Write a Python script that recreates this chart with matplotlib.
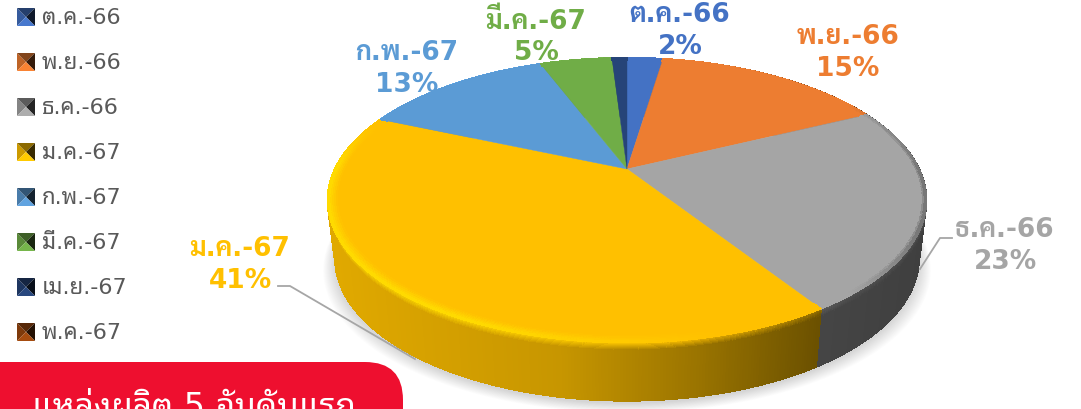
import numpy as np
import matplotlib
matplotlib.use('Agg')
import matplotlib.pyplot as plt
from matplotlib.collections import PolyCollection
from matplotlib.patches import FancyBboxPatch

months = ['ต.ค.-66', 'พ.ย.-66', 'ธ.ค.-66', 'ม.ค.-67', 'ก.พ.-67', 'มี.ค.-67', 'เม.ย.-67', 'พ.ค.-67']
share = [2.4, 15.4, 23.1, 40.6, 12.7, 4.8, 1.0, 0.0]
colors = ['#4472C4', '#ED7D31', '#A5A5A5', '#FFC000', '#5B9BD5', '#70AD47', '#264478', '#9E480E']

fam = ['DejaVu Sans', 'Noto Sans Thai Looped', 'Noto Sans Thai']
fam_bold = ['DejaVu Sans', 'Sarabun', 'Noto Sans Thai']

fig = plt.figure(figsize=(10.81, 4.10), dpi=100)
ax = fig.add_axes([0, 0, 1, 1])
ax.set_xlim(0, 1081)
ax.set_ylim(410, 0)
ax.axis('off')

cx, cy = 627.0, 170.0
a, b, k = 292.0, 135.5, 0.2195
depth = 58.0
shrink = 0.975


def rim(theta, r=1.0):
    u = r * np.sin(theta)
    v = r * np.cos(theta)
    w = 1 + k * v
    return cx + a * u / w, cy - b * v / w


def rim_low(theta, d=depth):
    x, y = rim(theta)
    f = d / depth
    return cx + (x - cx) * (1 - (1 - shrink) * f), y + d


def mix(c1, c2, t):
    return tuple(np.array(c1) * (1 - t) + np.array(c2) * t)


def side_shade(x):
    return np.interp(x, [330, 560, 700, 820, 930], [0.88, 0.78, 0.6, 0.42, 0.38])


edges = np.radians(np.cumsum([0] + share) / sum(share) * 360)

# soft shadow under the pie
th = np.linspace(0, 2 * np.pi, 200)
for i in range(14):
    g = 1 + i * 0.0035
    xs, ys = rim_low(th, depth + i * 0.7)
    ax.fill(cx + (xs - cx) * g, ys + 3, color='k', alpha=0.012, lw=0, zorder=1)

# side wall
quads, cols = [], []
for j, c in enumerate(colors):
    t0, t1 = edges[j], edges[j + 1]
    if t1 <= t0:
        continue
    base = matplotlib.colors.to_rgb(c)
    ts = np.linspace(t0, t1, max(2, int((t1 - t0) * 120)))
    for s, e in zip(ts[:-1], ts[1:]):
        xm = rim(0.5 * (s + e))[0]
        wall = tuple(np.array(base) * side_shade(xm))
        lit = tuple(np.minimum(np.array(base) * (1 + 0.15 * np.clip((700 - xm) / 300, 0, 1)), 1))
        lit = mix(wall, lit, np.clip((880 - xm) / 200, 0.15, 1))
        n = 9
        ds = np.r_[np.linspace(0, 9, n), depth]
        for q in range(len(ds) - 1):
            x0, y0 = rim_low(s, ds[q])
            x1, y1 = rim_low(e, ds[q])
            x2, y2 = rim_low(e, ds[q + 1])
            x3, y3 = rim_low(s, ds[q + 1])
            quads.append([(x0, y0), (x1, y1), (x2, y2), (x3, y3)])
            cols.append(mix(lit, wall, min(q / (n - 2), 1)))
ax.add_collection(PolyCollection(quads, facecolors=cols, edgecolors=cols, linewidths=0.8,
                                 antialiaseds=False, zorder=2))

# top face
for j, c in enumerate(colors):
    t0, t1 = edges[j], edges[j + 1]
    if t1 <= t0:
        continue
    ts = np.linspace(t0, t1, max(3, int((t1 - t0) * 60)))
    xs, ys = rim(ts)
    ax.fill(np.r_[cx, xs], np.r_[cy, ys], color=c, lw=0.3, zorder=3)

# bevel highlight on the front rim
quads, cols = [], []
for j, c in enumerate(colors):
    t0, t1 = edges[j], edges[j + 1]
    if t1 <= t0:
        continue
    base = matplotlib.colors.to_rgb(c)
    ts = np.linspace(t0, t1, max(2, int((t1 - t0) * 120)))
    for s, e in zip(ts[:-1], ts[1:]):
        xm, ym = rim(0.5 * (s + e))
        lit = tuple(np.minimum(np.array(base) * 1.15, 1))
        weight = np.clip((720 - xm) / 250, 0, 1) * np.clip((ym - 125) / 40, 0, 1)
        rs = np.linspace(0.97, 1.0, 6)
        for q in range(5):
            x0, y0 = rim(s, rs[q])
            x1, y1 = rim(e, rs[q])
            x2, y2 = rim(e, rs[q + 1])
            x3, y3 = rim(s, rs[q + 1])
            quads.append([(x0, y0), (x1, y1), (x2, y2), (x3, y3)])
            col = mix(base, lit, weight * (q + 0.5) / 5)
            # dark edge towards the right side
            dark = np.clip((xm - 850) / 70, 0, 1) * np.clip((q - 2) / 2, 0, 1) * 0.4
            cols.append(mix(col, (0.2, 0.2, 0.2), dark))
ax.add_collection(PolyCollection(quads, facecolors=cols, edgecolors=cols, linewidths=0.5,
                                 antialiaseds=False, zorder=4))

# leader lines
ax.plot([278, 290, 415], [287, 287, 360], color='#A6A6A6', lw=1.3, zorder=5)
ax.plot([952, 940, 920], [239, 239, 270], color='#A6A6A6', lw=1.3, zorder=5)

# data labels
label_pos = {0: (680, 15.5), 1: (848, 36.5), 2: (1005, 230.5), 3: (240, 249.5), 4: (407, 52.5), 5: (536, 21.5)}
for j, (px, py) in label_pos.items():
    ax.text(px, py, months[j], color=colors[j], fontsize=19, fontweight='bold', family=fam_bold,
            ha='center', va='center', zorder=6)
    ax.text(px, py + 32, f'{share[j]:.0f}%', color=colors[j], fontsize=19, fontweight='bold',
            family=fam_bold, ha='center', va='center', zorder=6)

# legend with pyramid markers
for j, c in enumerate(colors):
    y = 18 + 45 * j
    base = np.array(matplotlib.colors.to_rgb(c))
    x0, x1, y0, y1 = 17, 35, y - 9, y + 9
    xc, yc = (x0 + x1) / 2, (y0 + y1) / 2
    ax.fill([x0, x0, xc], [y0, y1, yc], color=base * 0.8, lw=0, zorder=5)
    ax.fill([x0, x1, xc], [y0, y0, yc], color=base * 0.55, lw=0, zorder=5)
    ax.fill([x1, x1, xc], [y0, y1, yc], color=base * 0.22, lw=0, zorder=5)
    ax.fill([x0, x1, xc], [y1, y1, yc], color=np.minimum(base * 1.05, 1), lw=0, zorder=5)
    ax.text(42, y, months[j], color='#595959', fontsize=16, family=fam, ha='left', va='center', zorder=5)

# red box at the bottom, cut by the figure edge
ax.add_patch(FancyBboxPatch((-60, 363), 463, 120, boxstyle='round,pad=0,rounding_size=38',
                            fc='#EE0F2F', ec='none', zorder=5))
ax.text(32, 408, 'แหล่งผลิต 5 อันดับแรก', color='white', fontsize=24, family=fam, ha='left', va='center',
        zorder=6, clip_on=True)

fig.savefig('out.png', dpi=100)
